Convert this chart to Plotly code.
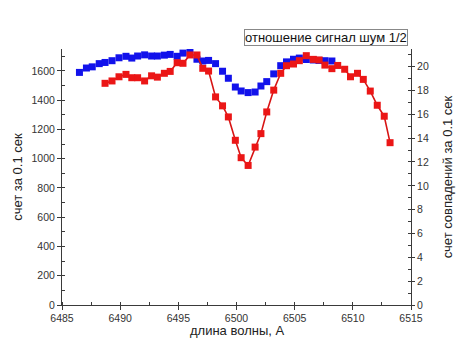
import plotly.graph_objects as go

# Wavelength grid, Angstrom
wavelength = [
    6486.5, 6487.1, 6487.6, 6488.2, 6488.7, 6489.3, 6489.9, 6490.5, 6491.0, 6491.5,
    6492.1, 6492.7, 6493.2, 6493.8, 6494.3, 6494.9, 6495.4, 6496.0, 6496.6, 6497.1,
    6497.6, 6498.2, 6498.8, 6499.3, 6499.9, 6500.4, 6501.0, 6501.6, 6502.1, 6502.6,
    6503.2, 6503.8, 6504.3, 6504.9, 6505.4, 6506.0, 6506.6, 6507.1, 6507.6, 6508.2,
    6508.7, 6509.3, 6509.8, 6510.4, 6510.9, 6511.5, 6512.1, 6512.7, 6513.2,
]

# Single-channel counts per 0.1 s (left axis)
counts_wl = wavelength[:40]
counts = [
    1590, 1620, 1628, 1650, 1658, 1670, 1690, 1700, 1688, 1702,
    1710, 1702, 1702, 1708, 1713, 1700, 1722, 1728, 1680, 1668,
    1672, 1650, 1598, 1550, 1490, 1463, 1452, 1456, 1497, 1527,
    1580, 1636, 1662, 1680, 1688, 1678, 1675, 1672, 1670, 1668,
]

# Coincidence counts per 0.1 s (right axis)
coinc_wl = wavelength[4:]
coinc = [
    18.6, 18.8, 19.15, 19.35, 19.07, 19.07, 18.8, 19.23, 19.12, 19.44,
    19.6, 20.33, 20.28, 20.98, 20.98, 19.86, 19.63, 17.46, 16.71, 15.78,
    13.82, 12.36, 11.71, 13.25, 14.38, 16.2, 18.03, 19.44, 20.08, 20.22,
    20.5, 20.92, 20.61, 20.56, 20.13, 19.83, 20.1, 19.78, 19.15, 19.44,
    18.93, 17.95, 16.76, 15.84, 13.62,
]

FONT = "Liberation Sans, Arial, sans-serif"
AXIS_COLOR = "#3a3a3a"

fig = go.Figure()

fig.add_trace(go.Scatter(
    x=counts_wl, y=counts, mode="markers",
    marker=dict(symbol="square", size=7, color="rgb(18,18,235)"),
    yaxis="y", showlegend=False,
))

fig.add_trace(go.Scatter(
    x=coinc_wl, y=coinc, mode="lines+markers",
    line=dict(color="rgb(215,20,20)", width=1.6),
    marker=dict(symbol="square", size=7, color="rgb(235,22,22)"),
    yaxis="y2", showlegend=False,
))

tick_font = dict(family=FONT, size=10.5, color="#333")
title_font = dict(family=FONT, size=13, color="#222")

fig.update_layout(
    width=466, height=347,
    margin=dict(l=62, r=55, t=49, b=42),
    paper_bgcolor="white", plot_bgcolor="white",
    font=dict(family=FONT),
    xaxis=dict(
        range=[6485, 6515], dtick=5, tick0=6485,
        showgrid=False, zeroline=False,
        showline=True, linecolor=AXIS_COLOR, linewidth=1,
        ticks="outside", ticklen=4, tickcolor=AXIS_COLOR,
        minor=dict(dtick=2.5, ticks="inside", ticklen=3, tickcolor=AXIS_COLOR),
        tickfont=tick_font, ticklabelstandoff=-1,
    ),
    yaxis=dict(
        range=[0, 1750], dtick=200, tick0=0,
        showgrid=False, zeroline=False,
        showline=True, linecolor=AXIS_COLOR, linewidth=1,
        ticks="outside", ticklen=4, tickcolor=AXIS_COLOR,
        minor=dict(dtick=100, ticks="inside", ticklen=3, tickcolor=AXIS_COLOR),
        tickfont=tick_font,
        title=dict(text="счет за 0.1 сек", font=title_font, standoff=5),
    ),
    yaxis2=dict(
        range=[0, 21.48], dtick=2, tick0=0,
        overlaying="y", side="right",
        showgrid=False, zeroline=False,
        showline=True, linecolor=AXIS_COLOR, linewidth=1,
        ticks="outside", ticklen=3, tickcolor=AXIS_COLOR,
        minor=dict(dtick=1, ticks="inside", ticklen=3, tickcolor=AXIS_COLOR),
        tickfont=tick_font,
        title=dict(text="счет совпадений за 0.1 сек", font=title_font, standoff=14),
    ),
    annotations=[
        dict(
            text="отношение сигнал шум 1/2",
            xref="paper", yref="paper", x=0.991, y=1.045,
            xanchor="right", yanchor="middle", showarrow=False,
            font=dict(family=FONT, size=13, color="#111"),
            bordercolor="#888", borderwidth=1, borderpad=0, bgcolor="white",
        ),
        dict(
            text="длина волны, А",
            xref="paper", yref="paper", x=0.5, y=-0.098,
            xanchor="center", yanchor="middle", showarrow=False,
            font=title_font,
        ),
    ],
)

fig.write_html("out.html")
